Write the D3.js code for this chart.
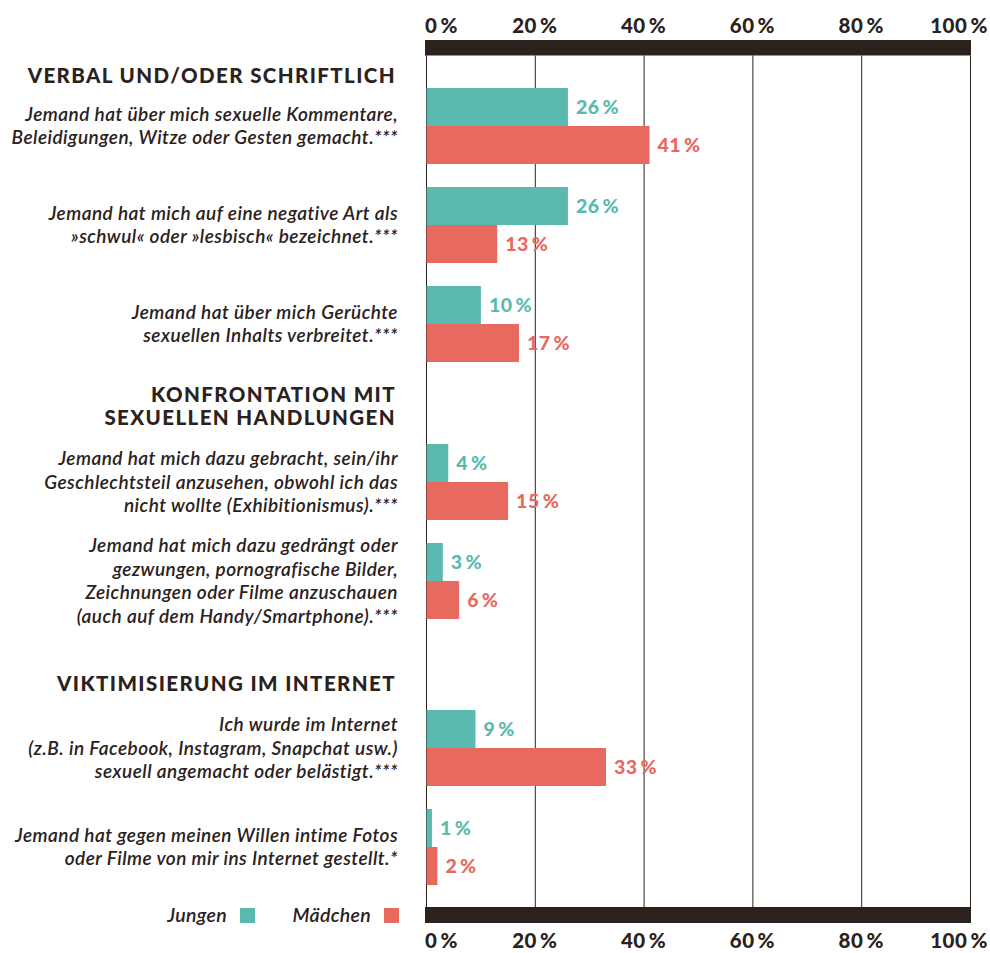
<!DOCTYPE html>
<html>
<head>
<meta charset="utf-8">
<script src="https://cdn.jsdelivr.net/npm/d3@7"></script>
<style>
  body { margin: 0; background: #fff; }
  .tick-label { font-family: Lato, sans-serif; font-weight: 900; font-size: 20.5px; fill: #2b221d; letter-spacing: 0.5px; }
  .hdr { font-family: Lato, sans-serif; font-weight: 900; font-size: 20.5px; fill: #2b221d; letter-spacing: 1.4px; }
  .lbl { font-family: Lato, sans-serif; font-style: italic; font-weight: 600; font-size: 19px; letter-spacing: 0.45px; fill: #2b221d; }
  .val { font-family: Lato, sans-serif; font-weight: 900; font-size: 19.5px; letter-spacing: 0.5px; }
  .leg { font-family: Lato, sans-serif; font-style: italic; font-weight: 600; font-size: 19.5px; letter-spacing: 0.3px; fill: #2b221d; }
</style>
</head>
<body>
<div id="graf"></div>
<script>
// data
const gruppen = [
  ["VERBAL UND/ODER SCHRIFTLICH"],
  ["KONFRONTATION MIT", "SEXUELLEN HANDLUNGEN"],
  ["VIKTIMISIERUNG IM INTERNET"]
]
const gruppeVon = [0, 0, 0, 1, 1, 2, 2]
const fragen = [
  ["Jemand hat über mich sexuelle Kommentare,", "Beleidigungen, Witze oder Gesten gemacht.***"],
  ["Jemand hat mich auf eine negative Art als", "»schwul« oder »lesbisch« bezeichnet.***"],
  ["Jemand hat über mich Gerüchte", "sexuellen Inhalts verbreitet.***"],
  ["Jemand hat mich dazu gebracht, sein/ihr", "Geschlechtsteil anzusehen, obwohl ich das", "nicht wollte (Exhibitionismus).***"],
  ["Jemand hat mich dazu gedrängt oder", "gezwungen, pornografische Bilder,", "Zeichnungen oder Filme anzuschauen", "(auch auf dem Handy/Smartphone).***"],
  ["Ich wurde im Internet", "(z.B. in Facebook, Instagram, Snapchat usw.)", "sexuell angemacht oder belästigt.***"],
  ["Jemand hat gegen meinen Willen intime Fotos", "oder Filme von mir ins Internet gestellt.*"]
]
const jungen = [26, 26, 10, 4, 3, 9, 1]
const maedchen = [41, 13, 17, 15, 6, 33, 2]
const serien = ["Jungen", "Mädchen"]
const ticks = [0, 20, 40, 60, 80, 100]

const farben = { Jungen: "#5bbab0", "Mädchen": "#e8695f" }
const dunkel = "#2b221d"

const W = 990, H = 953
const barTop = 40, barH = 15.5
const gridTop = 55.5, gridBottom = 907
const botBar = 907

const paarH = 76, luecke = 23, zeileH = 23.5, kopfLuecke = 59

const svg = d3.select("#graf").append("svg")
  .attr("width", W).attr("height", H)

const x = d3.scaleLinear().domain([0, 100]).range([426, 970])

// vertical layout: position of each question pair
const tops = []
let cursor = 88
fragen.forEach((f, i) => {
  if (i > 0 && gruppeVon[i] !== gruppeVon[i - 1]) cursor += kopfLuecke
  tops.push(cursor)
  cursor += paarH + luecke + Math.max(0, f.length * zeileH - paarH) / 2
})
const y = d3.scaleOrdinal().domain(d3.range(fragen.length)).range(tops)
const sub = d3.scaleBand().domain(serien).range([0, paarH])

const daten = fragen.map((f, i) => ({ i, text: f, Jungen: jungen[i], "Mädchen": maedchen[i] }))
const pct = v => v + "\u2009%"

// grid lines
svg.append("g").selectAll("line").data(ticks).join("line")
  .attr("x1", d => x(d) + 0.5).attr("x2", d => x(d) + 0.5)
  .attr("y1", gridTop).attr("y2", gridBottom)
  .attr("stroke", dunkel).attr("stroke-width", 1)

// dark bands top and bottom
svg.append("rect").attr("x", x(0) - 1).attr("y", barTop)
  .attr("width", x(100) - x(0) + 2).attr("height", barH).attr("fill", dunkel)
svg.append("rect").attr("x", x(0) - 1).attr("y", botBar)
  .attr("width", x(100) - x(0) + 2).attr("height", 16).attr("fill", dunkel)

// tick labels
const tickAnchor = (d, i) => i === 0 ? "start" : "middle"
const tickX = (d, i) => i === 0 ? x(d) - 1 : i === ticks.length - 1 ? x(d) - 11 : x(d)
;[32.5, 948].forEach(yy => {
  svg.append("g").selectAll("text").data(ticks).join("text")
    .attr("class", "tick-label")
    .attr("x", tickX).attr("y", yy)
    .attr("text-anchor", tickAnchor)
    .text(pct)
})

// bars
const paar = svg.append("g").selectAll("g").data(daten).join("g")
  .attr("transform", d => `translate(0, ${y(d.i)})`)

paar.selectAll("rect").data(d => serien.map(s => ({ s, v: d[s] }))).join("rect")
  .attr("x", x(0) + 0.5)
  .attr("y", d => sub(d.s))
  .attr("width", d => x(d.v) - x(0))
  .attr("height", sub.bandwidth())
  .attr("fill", d => farben[d.s])

paar.selectAll("text.val").data(d => serien.map(s => ({ s, v: d[s] }))).join("text")
  .attr("class", "val")
  .attr("x", d => x(d.v) + 8.5)
  .attr("y", d => sub(d.s) + sub.bandwidth() / 2 + 7)
  .attr("fill", d => farben[d.s])
  .text(d => pct(d.v))

// question labels
paar.append("text")
  .attr("class", "lbl")
  .attr("text-anchor", "end")
  .selectAll("tspan").data(d => d.text.map((t, k) => ({ t, k, n: d.text.length }))).join("tspan")
  .attr("x", 398)
  .attr("y", d => paarH / 2 + (d.k - (d.n - 1) / 2) * zeileH + 6.5)
  .text(d => d.t)

// group headers
gruppen.forEach((g, gi) => {
  const first = gruppeVon.indexOf(gi)
  const off = gi === 0 ? 5 : 19
  const base = y(first) - off
  svg.append("text").attr("class", "hdr").attr("text-anchor", "end")
    .selectAll("tspan").data(g).join("tspan")
    .attr("x", 396)
    .attr("y", (d, k) => base - (g.length - 1 - k) * zeileH)
    .text(d => d)
})

// legend
const leg = svg.append("g")
const legX = { Jungen: 240, "Mädchen": 384 }
serien.forEach(s => {
  leg.append("rect").attr("x", legX[s]).attr("y", 908).attr("width", 15).attr("height", 15).attr("fill", farben[s])
  leg.append("text").attr("class", "leg").attr("text-anchor", "end")
    .attr("x", legX[s] - 13).attr("y", 922).text(s)
})
</script>
</body>
</html>
